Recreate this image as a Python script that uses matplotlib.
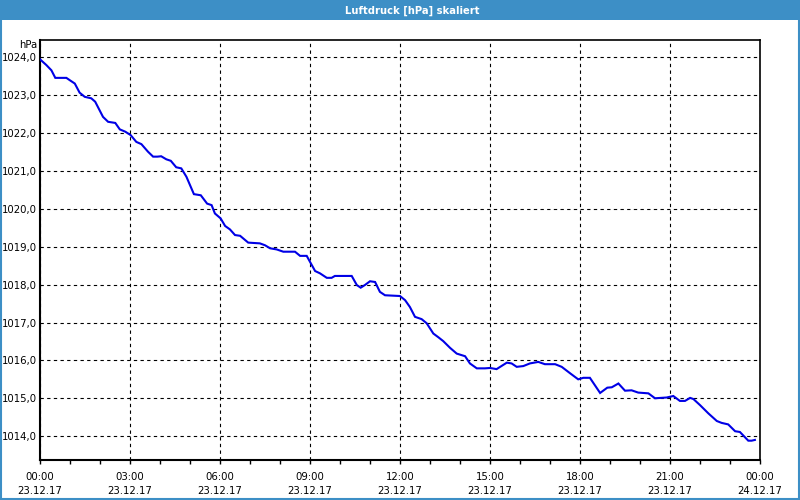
import matplotlib
matplotlib.use("Agg")
import matplotlib.pyplot as plt
from matplotlib.patches import Rectangle
from matplotlib.ticker import MultipleLocator, FixedLocator

# Data: hours since 23.12.17 00:00 and pressure in hPa
hours = [0.00, 0.21, 0.38, 0.51, 0.88, 0.99, 1.16, 1.32, 1.49, 1.71, 1.84, 2.10, 2.27, 2.51,
         2.66, 2.84, 3.02, 3.21, 3.38, 3.60, 3.77, 3.91, 4.04, 4.21, 4.36, 4.54, 4.71, 4.88,
         5.13, 5.36, 5.57, 5.72, 5.83, 6.02, 6.17, 6.33, 6.50, 6.67, 6.94, 7.33, 7.50, 7.67,
         7.89, 8.11, 8.50, 8.67, 8.89, 9.17, 9.33, 9.56, 9.72, 9.83, 10.39, 10.56, 10.69,
         10.83, 11.00, 11.17, 11.33, 11.50, 12.00, 12.17, 12.33, 12.50, 12.72, 12.89, 13.11,
         13.28, 13.44, 13.67, 13.89, 14.17, 14.33, 14.56, 14.83, 15.00, 15.22, 15.56, 15.72,
         15.89, 16.11, 16.33, 16.61, 16.83, 17.17, 17.39, 17.67, 17.94, 18.11, 18.33, 18.67,
         18.91, 19.06, 19.28, 19.50, 19.72, 19.94, 20.28, 20.50, 20.89, 21.11, 21.33, 21.50,
         21.67, 21.78, 22.00, 22.28, 22.56, 22.72, 22.94, 23.17, 23.33, 23.50, 23.61, 23.72,
         23.83]
pressure = [1023.95, 1023.80, 1023.66, 1023.46, 1023.46, 1023.40, 1023.31, 1023.07, 1022.96,
            1022.92, 1022.83, 1022.43, 1022.30, 1022.27, 1022.10, 1022.04, 1021.95, 1021.77,
            1021.71, 1021.51, 1021.38, 1021.38, 1021.39, 1021.31, 1021.27, 1021.10, 1021.07,
            1020.85, 1020.39, 1020.36, 1020.14, 1020.10, 1019.88, 1019.75, 1019.55, 1019.46,
            1019.31, 1019.29, 1019.11, 1019.09, 1019.04, 1018.96, 1018.93, 1018.87, 1018.87,
            1018.76, 1018.76, 1018.36, 1018.30, 1018.18, 1018.18, 1018.23, 1018.23, 1017.99,
            1017.92, 1017.99, 1018.09, 1018.07, 1017.81, 1017.72, 1017.70, 1017.59, 1017.41,
            1017.15, 1017.09, 1016.98, 1016.71, 1016.61, 1016.51, 1016.33, 1016.18, 1016.11,
            1015.92, 1015.79, 1015.79, 1015.80, 1015.77, 1015.94, 1015.92, 1015.83, 1015.85,
            1015.92, 1015.96, 1015.90, 1015.90, 1015.83, 1015.66, 1015.50, 1015.54, 1015.54,
            1015.14, 1015.28, 1015.29, 1015.39, 1015.20, 1015.21, 1015.15, 1015.13, 1015.00,
            1015.02, 1015.06, 1014.93, 1014.93, 1015.01, 1014.98, 1014.82, 1014.60, 1014.40,
            1014.35, 1014.31, 1014.13, 1014.11, 1013.97, 1013.88, 1013.88, 1013.90]

x_tick_hours = [0, 3, 6, 9, 12, 15, 18, 21, 24]
x_tick_labels = ["00:00\n23.12.17", "03:00\n23.12.17", "06:00\n23.12.17", "09:00\n23.12.17",
                 "12:00\n23.12.17", "15:00\n23.12.17", "18:00\n23.12.17", "21:00\n23.12.17",
                 "00:00\n24.12.17"]
y_ticks = [1014, 1015, 1016, 1017, 1018, 1019, 1020, 1021, 1022, 1023, 1024]
y_tick_labels = [f"{v},0" for v in y_ticks]

title = "Luftdruck [hPa] skaliert"
unit = "hPa"

BLUE = "#3d8fc6"

plt.rcParams['font.family'] = ['DejaVu Sans']
fig = plt.figure(figsize=(8, 5), dpi=100, facecolor="white")

# Title bar and window frame
fig.patches.append(Rectangle((0, 0.96), 1, 0.04, transform=fig.transFigure,
                             facecolor=BLUE, edgecolor="none", zorder=0))
fig.patches.append(Rectangle((0.001, 0.002), 0.998, 0.996, transform=fig.transFigure,
                             facecolor="none", edgecolor=BLUE, linewidth=1.5, zorder=5))
fig.text(412 / 800, 0.979, title, ha="center", va="center", color="white",
         fontsize=7.2, fontweight="bold")

ax = fig.add_axes([0.05, 0.08, 0.90, 0.84])
ax.plot(hours, pressure, color="#0000e6", linewidth=1.5, solid_joinstyle="miter", zorder=3)

ax.set_xlim(0, 24)
ax.set_ylim(1013.37, 1024.46)

ax.xaxis.set_major_locator(FixedLocator(x_tick_hours))
ax.set_xticklabels(x_tick_labels, fontsize=7.3, linespacing=1.5)
ax.xaxis.set_minor_locator(MultipleLocator(1))
ax.set_yticks(y_ticks)
ax.set_yticklabels(y_tick_labels, fontsize=7.3)

ax.tick_params(axis="x", which="major", length=3, width=1, pad=6, colors="black")
ax.tick_params(axis="x", which="minor", length=3, width=1)
ax.tick_params(axis="y", length=0, pad=2.2)

ax.grid(True, which="major", color="black", linestyle=(0, (3, 3)), linewidth=0.8)

for side in ["left", "bottom"]:
    ax.spines[side].set_linewidth(1.5)
for side in ["top", "right"]:
    ax.spines[side].set_linewidth(1.2)

fig.text(37 / 800, 1 - 45 / 500, unit, ha="right", va="center", fontsize=7.3)

fig.savefig("out.png", dpi=100, facecolor="white")
